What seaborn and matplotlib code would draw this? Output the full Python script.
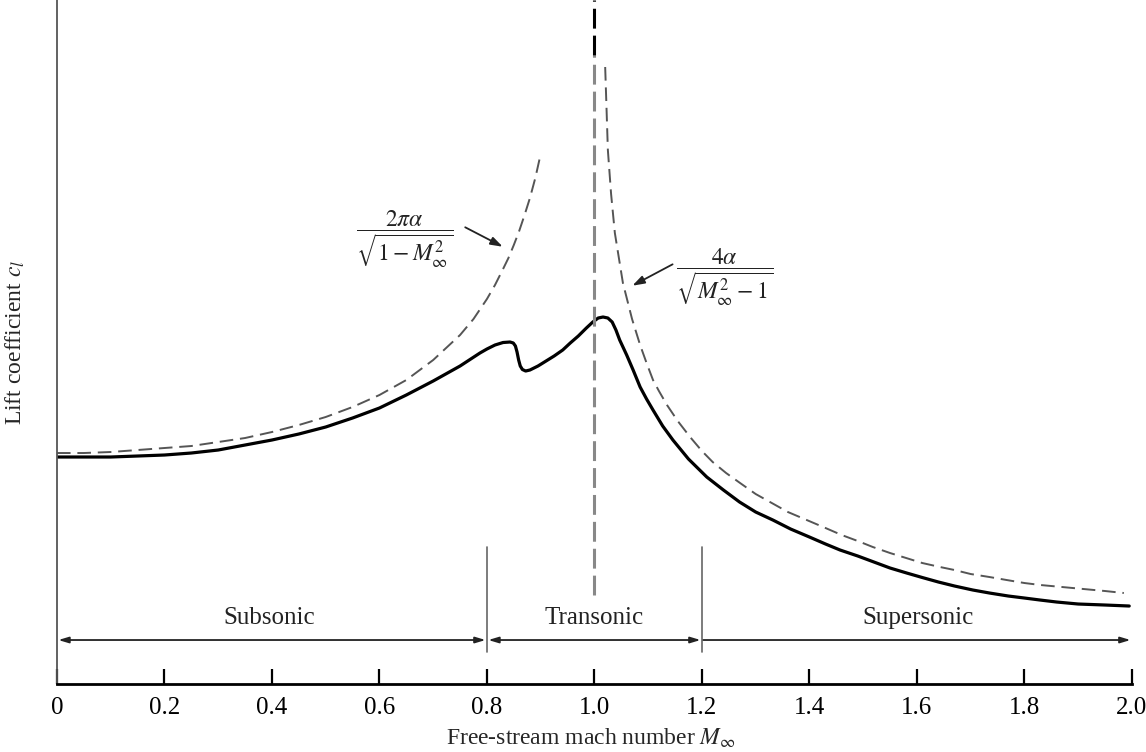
import matplotlib
matplotlib.use('Agg')
import matplotlib.pyplot as plt
import seaborn as sns

# Prandtl-Glauert (subsonic) dashed curve
sub_M = [0.0, 0.05, 0.1, 0.15, 0.2, 0.25, 0.3, 0.35, 0.4, 0.45, 0.5, 0.55, 0.6, 0.65, 0.7,
         0.75, 0.775, 0.8, 0.815, 0.83, 0.84, 0.85, 0.86, 0.87, 0.88, 0.89, 0.895, 0.9]
sub_cl = [2.31, 2.31, 2.32, 2.34, 2.36, 2.38, 2.42, 2.46, 2.52, 2.59, 2.67, 2.77, 2.89, 3.04, 3.24,
          3.49, 3.65, 3.85, 3.99, 4.15, 4.26, 4.39, 4.53, 4.69, 4.86, 5.06, 5.18, 5.30]

# Ackeret (supersonic) dashed curve
sup_M = [1.020, 1.025, 1.031, 1.038, 1.053, 1.07, 1.085, 1.097, 1.109, 1.12, 1.135, 1.155,
         1.178, 1.20, 1.22, 1.245, 1.271, 1.30, 1.33, 1.36, 1.395, 1.43, 1.46, 1.49, 1.518,
         1.55, 1.58, 1.61, 1.643, 1.67, 1.70, 1.735, 1.767, 1.80, 1.83, 1.86, 1.890, 1.92,
         1.95, 1.985]
sup_cl = [6.17, 5.34, 4.90, 4.51, 4.01, 3.65, 3.39, 3.21, 3.04, 2.93, 2.79, 2.63,
          2.47, 2.33, 2.22, 2.11, 2.01, 1.90, 1.81, 1.72, 1.64, 1.56, 1.49, 1.43, 1.37,
          1.31, 1.26, 1.21, 1.17, 1.14, 1.10, 1.07, 1.04, 1.01, 0.99, 0.975, 0.96, 0.945,
          0.93, 0.91]

# actual lift coefficient (solid)
real_M = [0.0, 0.05, 0.1, 0.15, 0.2, 0.25, 0.3, 0.35, 0.4, 0.45, 0.5, 0.55, 0.6, 0.65, 0.7,
          0.75, 0.787, 0.80, 0.815, 0.83, 0.843, 0.849, 0.853, 0.856, 0.859, 0.862, 0.866,
          0.872, 0.88, 0.895, 0.91, 0.925, 0.941, 0.955, 0.97, 0.985, 0.997, 1.007, 1.016,
          1.025, 1.033, 1.040, 1.047, 1.06, 1.072, 1.085, 1.097, 1.109, 1.127, 1.146, 1.175,
          1.209, 1.24, 1.27, 1.30, 1.332, 1.365, 1.40, 1.43, 1.457, 1.49, 1.52, 1.55, 1.581,
          1.61, 1.64, 1.67, 1.704, 1.735, 1.77, 1.80, 1.829, 1.86, 1.9, 1.95, 1.995]
real_cl = [2.27, 2.27, 2.27, 2.28, 2.29, 2.31, 2.34, 2.39, 2.44, 2.50, 2.57, 2.66, 2.76, 2.89, 3.03,
           3.18, 3.31, 3.35, 3.39, 3.415, 3.42, 3.41, 3.38, 3.32, 3.24, 3.18, 3.145,
           3.13, 3.14, 3.18, 3.23, 3.28, 3.34, 3.41, 3.48, 3.56, 3.62, 3.66, 3.67,
           3.66, 3.62, 3.54, 3.44, 3.29, 3.14, 2.97, 2.85, 2.74, 2.58, 2.44, 2.25,
           2.07, 1.94, 1.82, 1.72, 1.64, 1.55, 1.47, 1.40, 1.34, 1.28, 1.22, 1.16, 1.11,
           1.065, 1.02, 0.98, 0.94, 0.91, 0.88, 0.86, 0.84, 0.82, 0.80, 0.79, 0.78]

regions = ['Subsonic', 'Transonic', 'Supersonic']
region_edges = [0.0, 0.8, 1.2, 2.0]
region_label_x = [0.395, 1.0, 1.602]

xticks = [0, 0.2, 0.4, 0.6, 0.8, 1.0, 1.2, 1.4, 1.6, 1.8, 2.0]
xticklabels = ['0', '0.2', '0.4', '0.6', '0.8', '1.0', '1.2', '1.4', '1.6', '1.8', '2.0']

sns.set_theme(style='white')
plt.rcParams['font.family'] = ['Liberation Serif', 'DejaVu Serif']
plt.rcParams['mathtext.fontset'] = 'stix'

fig = plt.figure(figsize=(11.46, 7.52), dpi=100)
ax = fig.add_axes([0.0497, 0.0904, 0.938, 0.9096])

dash = (0, (7, 3.5))
sns.lineplot(x=sub_M, y=sub_cl, ax=ax, color='#555555', lw=1.4, linestyle=dash)
sns.lineplot(x=sup_M, y=sup_cl, ax=ax, color='#555555', lw=1.4, linestyle=dash)
sns.lineplot(x=real_M, y=real_cl, ax=ax, color='black', lw=2.3)

# sonic line
ax.axvline(1.0, ymin=0.13, ymax=0.92, color='#888888', lw=2.2, linestyle=(0, (6.5, 2.3)))
ax.axvline(1.0, ymin=0.92, ymax=1.0, color='black', lw=2.2, linestyle=(0, (6.5, 2.3)))

# region boundaries and arrows
for b in region_edges[1:-1]:
    ax.plot([b, b], [0.32, 1.37], color='#666666', lw=1.2)
for i, name in enumerate(regions):
    lo, hi = region_edges[i], region_edges[i + 1]
    style = '-|>' if i == 2 else '<|-|>'
    ax.annotate('', xy=(hi, 0.44), xytext=(lo, 0.44),
                arrowprops=dict(arrowstyle=style + ',head_length=0.5,head_width=0.15',
                                color='#222222', lw=1.3, shrinkA=1, shrinkB=1))
    ax.text(region_label_x[i], 0.66, name, ha='center', va='center', fontsize=18, color='#222222')

# formula labels
ax.text(0.647, 4.45, r'$\dfrac{2\pi\alpha}{\sqrt{1-M_\infty^2}}$', ha='center', va='center',
        fontsize=17, color='#222222')
ax.annotate('', xy=(0.834, 4.36), xytext=(0.755, 4.58),
            arrowprops=dict(arrowstyle='-|>,head_length=0.6,head_width=0.2', color='#222222', lw=1.3))
ax.text(1.243, 4.07, r'$\dfrac{4\alpha}{\sqrt{M_\infty^2-1}}$', ha='center', va='center',
        fontsize=17, color='#222222')
ax.annotate('', xy=(1.066, 3.97), xytext=(1.150, 4.21),
            arrowprops=dict(arrowstyle='-|>,head_length=0.6,head_width=0.2', color='#222222', lw=1.3))

ax.set_xlim(0, 2.0)
ax.set_ylim(0, 6.84)
ax.set_xticks(xticks)
ax.set_xticklabels(xticklabels)
ax.set_yticks([])
ax.tick_params(axis='x', direction='in', length=11, width=1.6, pad=9, labelsize=18,
               colors='black', bottom=True)
ax.set_xlabel(r'Free-stream mach number $M_\infty$', fontsize=17)
ax.xaxis.set_label_coords(0.497, -0.062)
ax.set_ylabel(r'Lift coefficient $c_l$', fontsize=17)
ax.yaxis.set_label_coords(-0.028, 0.50)

sns.despine(ax=ax, top=True, right=True)
ax.spines['bottom'].set_color('black')
ax.spines['bottom'].set_linewidth(2.0)
ax.spines['left'].set_color('#555555')
ax.spines['left'].set_linewidth(1.3)

fig.savefig('out.png', dpi=100)
